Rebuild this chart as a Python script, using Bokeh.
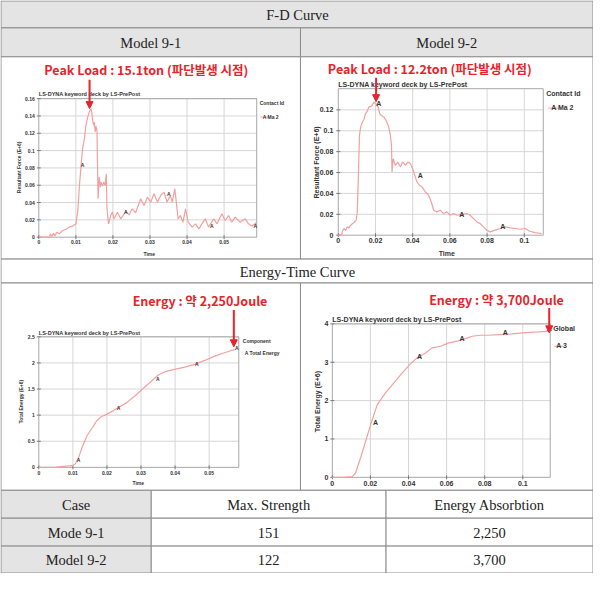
import numpy as np
from bokeh.plotting import figure
from bokeh.models import Range1d, Arrow, NormalHead
from bokeh.core.properties import value
from bokeh.embed import file_html
from bokeh.resources import INLINE

# ---------------- data ----------------
# Model 9-1 : F-D curve
fd1_time = [0, 0.0020, 0.0029, 0.0031, 0.0036, 0.0039, 0.0044, 0.0048, 0.0056, 0.0064, 0.0073, 0.0082,
            0.0091, 0.0100, 0.0105, 0.0109, 0.0114, 0.0118, 0.0123, 0.0127, 0.0132, 0.0136, 0.0141, 0.0143,
            0.0145, 0.0148, 0.0150, 0.0152, 0.0154, 0.0157, 0.0158, 0.0160, 0.0163, 0.0166, 0.0168, 0.0172,
            0.0175, 0.0179, 0.0182, 0.0184, 0.0188, 0.0194, 0.0199, 0.0203, 0.0212, 0.0221, 0.0235, 0.0244,
            0.0252, 0.0261, 0.0275, 0.0284, 0.0293, 0.0302, 0.0311, 0.0320, 0.0329, 0.0338, 0.0346, 0.0355,
            0.0360, 0.0367, 0.0371, 0.0376, 0.0382, 0.0389, 0.0396, 0.0403, 0.0414, 0.0423, 0.0432, 0.0440,
            0.0449, 0.0458, 0.0472, 0.0481, 0.0494, 0.0503, 0.0512, 0.0521, 0.0530, 0.0543, 0.0557, 0.0566,
            0.0575, 0.0588]
fd1_force = [0, 0, 0, 0.0039, 0.0008, 0.0046, 0.0015, 0.0058, 0.0039, 0.0077, 0.0089, 0.0116,
             0.0127, 0.0154, 0.0289, 0.0559, 0.0829, 0.1021, 0.1137, 0.1291, 0.1387, 0.1445, 0.1484, 0.1445,
             0.1349, 0.1291, 0.1329, 0.1214, 0.1283, 0.1233, 0.0944, 0.0443, 0.0694, 0.0578, 0.0636, 0.0590,
             0.0636, 0.0597, 0.0732, 0.0328, 0.0154, 0.0250, 0.0289, 0.0212, 0.0289, 0.0212, 0.0297, 0.0258,
             0.0328, 0.0281, 0.0443, 0.0366, 0.0462, 0.0405, 0.0501, 0.0405, 0.0482, 0.0520, 0.0405, 0.0482,
             0.0405, 0.0559, 0.0405, 0.0212, 0.0250, 0.0173, 0.0328, 0.0173, 0.0116, 0.0154, 0.0096, 0.0154,
             0.0212, 0.0116, 0.0212, 0.0154, 0.0270, 0.0193, 0.0250, 0.0173, 0.0231, 0.0173, 0.0212, 0.0154,
             0.0127, 0.0173]
fd1_mark_t = [0.0118, 0.0235, 0.0351, 0.0467, 0.0584]
fd1_mark_f = [0.083, 0.029, 0.050, 0.013, 0.013]

# Model 9-2 : F-D curve
fd2_time = [0, 0.0018, 0.0021, 0.0030, 0.0039, 0.0048, 0.0057, 0.0066, 0.0084, 0.0096, 0.0102, 0.0107,
            0.0114, 0.0120, 0.0129, 0.0138, 0.0146, 0.0155, 0.0164, 0.0179, 0.0191, 0.0204, 0.0214, 0.0223,
            0.0232, 0.0245, 0.0257, 0.0268, 0.0275, 0.0280, 0.0286, 0.0289, 0.0295, 0.0307, 0.0320, 0.0334,
            0.0346, 0.0361, 0.0375, 0.0388, 0.0400, 0.0411, 0.0423, 0.0436, 0.0450, 0.0468, 0.0486, 0.0500,
            0.0513, 0.0530, 0.0548, 0.0566, 0.0584, 0.0602, 0.0620, 0.0638, 0.0664, 0.0691, 0.0709, 0.0727,
            0.0745, 0.0763, 0.0780, 0.0798, 0.0816, 0.0843, 0.0870, 0.0896, 0.0923, 0.0950, 0.0977, 0.1004,
            0.1030, 0.1057, 0.1093]
fd2_force = [0, 0, 0.0032, 0.0064, 0.0045, 0.0080, 0.0070, 0.0096, 0.0121, 0.0143, 0.0223, 0.0510,
             0.0955, 0.1035, 0.1083, 0.1108, 0.1162, 0.1185, 0.1226, 0.1236, 0.1274, 0.1255, 0.1226, 0.1162,
             0.1146, 0.1131, 0.1099, 0.1051, 0.1003, 0.0955, 0.0860, 0.0605, 0.0732, 0.0669, 0.0701, 0.0653,
             0.0701, 0.0669, 0.0701, 0.0685, 0.0637, 0.0573, 0.0510, 0.0478, 0.0462, 0.0414, 0.0382, 0.0318,
             0.0239, 0.0223, 0.0239, 0.0207, 0.0223, 0.0191, 0.0207, 0.0191, 0.0197, 0.0207, 0.0191, 0.0159,
             0.0127, 0.0111, 0.0080, 0.0048, 0.0032, 0.0048, 0.0064, 0.0080, 0.0070, 0.0064, 0.0057, 0.0064,
             0.0038, 0.0025, 0.0016]
fd2_mark_t = [0.0218, 0.0441, 0.0664, 0.0884]
fd2_mark_f = [0.126, 0.057, 0.020, 0.008]

# Model 9-1 : Energy-Time curve
en1_time = [0, 0.0049, 0.0097, 0.0107, 0.0117, 0.0127, 0.0141, 0.0156, 0.0170, 0.0183, 0.0201, 0.0234,
            0.0258, 0.0282, 0.0307, 0.0331, 0.0351, 0.0370, 0.0399, 0.0428, 0.0458, 0.0487, 0.0516, 0.0545,
            0.0565, 0.0579]
en1_energy = [0, 0.006, 0.032, 0.064, 0.191, 0.38, 0.60, 0.75, 0.89, 0.97, 1.02, 1.145,
              1.24, 1.368, 1.514, 1.654, 1.768, 1.832, 1.877, 1.921, 1.972, 2.048, 2.131, 2.195,
              2.239, 2.258]
en1_mark_t = [0.0117, 0.0234, 0.0349, 0.0464, 0.0581]
en1_mark_e = [0.146, 1.13, 1.69, 1.98, 2.29]

# Model 9-2 : Energy-Time curve
en2_time = [0, 0.0052, 0.0105, 0.0122, 0.0148, 0.0175, 0.0201, 0.0236, 0.0279, 0.0323, 0.0367, 0.0410,
            0.0445, 0.0489, 0.0524, 0.0568, 0.0611, 0.0655, 0.0699, 0.0734, 0.0777, 0.0821, 0.0873, 0.0943,
            0.1013, 0.1083, 0.1144]
en2_energy = [0, 0, 0.017, 0.113, 0.504, 0.939, 1.374, 1.896, 2.200, 2.461, 2.722, 2.957,
              3.113, 3.243, 3.374, 3.417, 3.504, 3.548, 3.617, 3.678, 3.704, 3.704, 3.722, 3.739,
              3.774, 3.791, 3.809]
en2_mark_t = [0.0227, 0.0458, 0.0681, 0.0908, 0.1139]
en2_mark_e = [1.44, 3.16, 3.63, 3.77, 3.87]

# tick values / labels
fd1_xticks = [0, 0.01, 0.02, 0.03, 0.04, 0.05]
fd1_xlabels = ["0", "0.01", "0.02", "0.03", "0.04", "0.05"]
fd1_yticks = [0, 0.02, 0.04, 0.06, 0.08, 0.10, 0.12, 0.14, 0.16]
fd1_ylabels = ["0", "0.02", "0.04", "0.06", "0.08", "0.1", "0.12", "0.14", "0.16"]
fd2_xticks = [0, 0.02, 0.04, 0.06, 0.08, 0.10]
fd2_xlabels = ["0", "0.02", "0.04", "0.06", "0.08", "0.1"]
fd2_yticks = [0, 0.02, 0.04, 0.06, 0.08, 0.10, 0.12]
fd2_ylabels = ["0", "0.02", "0.04", "0.06", "0.08", "0.1", "0.12"]
en1_xticks = [0, 0.01, 0.02, 0.03, 0.04, 0.05]
en1_xlabels = ["0", "0.01", "0.02", "0.03", "0.04", "0.05"]
en1_yticks = [0, 0.5, 1.0, 1.5, 2.0, 2.5]
en1_ylabels = ["0", "0.5", "1", "1.5", "2", "2.5"]
en2_xticks = [0, 0.02, 0.04, 0.06, 0.08, 0.10]
en2_xlabels = ["0", "0.02", "0.04", "0.06", "0.08", "0.1"]
en2_yticks = [0, 1, 2, 3, 4]
en2_ylabels = ["0", "1", "2", "3", "4"]

# summary table
cases = ["Mode 9-1", "Model 9-2"]
max_strength = ["151", "122"]
energy_abs = ["2,250", "3,700"]

# ---------------- figure ----------------
p = figure(width=593, height=573, x_range=Range1d(4.5, 600.5), y_range=Range1d(579.5, 4.5),
           toolbar_location=None, output_backend="svg", x_axis_location=None, y_axis_location=None,
           min_border=0)
p.grid.visible = False
p.outline_line_color = None
p.background_fill_color = "white"
p.border_fill_color = "white"

GRAY = "#e4e4e4"
LINE = "#8c8c8c"
SERIF = value("Liberation Serif")
SANS = value("Liberation Sans")
KR = value("Noto Sans CJK KR")
RED = "#e8232b"
CURVE = "#f3a0a0"

# table cells (left, right, top, bottom, fill)
cells = [
    (5, 600, 5, 32, GRAY),
    (5, 306, 32, 61, GRAY), (306, 600, 32, 61, GRAY),
    (5, 306, 61, 264, "white"), (306, 600, 61, 264, "white"),
    (5, 600, 264, 288, "white"),
    (5, 306, 288, 496, "white"), (306, 600, 288, 496, "white"),
    (5, 156, 496, 524, GRAY), (156, 392, 496, 524, "white"), (392, 600, 496, 524, "white"),
    (5, 156, 524, 552, GRAY), (156, 392, 524, 552, "white"), (392, 600, 524, 552, "white"),
    (5, 156, 552, 579, GRAY), (156, 392, 552, 579, "white"), (392, 600, 552, 579, "white"),
]
p.quad(left=[c[0] for c in cells], right=[c[1] for c in cells], top=[c[2] for c in cells],
       bottom=[c[3] for c in cells], fill_color=[c[4] for c in cells], line_color=LINE, line_width=1)

def ttext(x, y, t, size="14.5px"):
    p.text(x=x, y=y, text=t, text_font=SERIF, text_font_size=size, text_color="#222222",
           text_align="center", text_baseline="middle")

ttext([303], [19], ["F-D Curve"])
ttext([155.5, 453], [47, 47], ["Model 9-1", "Model 9-2"])
ttext([303], [276.5], ["Energy-Time Curve"])
ttext([80.5, 274, 496], [510.5, 510.5, 510.5], ["Case", "Max. Strength", "Energy Absorbtion"])
ttext([80.5, 80.5], [538.5, 566], cases)
ttext([274, 274], [538.5, 566], max_strength)
ttext([496, 496], [538.5, 566], energy_abs)


def chart(frame, xr, yr, xt, xl, yt, yl, xs, ys, mx, my, fs, xoff, yoff):
    L, R, T, B = frame
    sp = p.subplot(x_source=Range1d(*xr), y_source=Range1d(*yr),
                   x_target=Range1d(L, R), y_target=Range1d(B, T))
    gx = [v for v in xt if v > xr[0]]
    gy = [v for v in yt if v > yr[0]]
    sp.segment(x0=gx, y0=yr[0], x1=gx, y1=yr[1], line_color="#d6d6d6", line_width=1)
    sp.segment(x0=xr[0], y0=gy, x1=xr[1], y1=gy, line_color="#d6d6d6", line_width=1)
    sp.quad(left=xr[0], right=xr[1], bottom=yr[0], top=yr[1], fill_color=None,
            line_color="#a8a8a8", line_width=1)
    sp.scatter(x=[xr[0]] * len(yt), y=yt, marker="dash", size=4, line_color="#777777")
    sp.scatter(x=xt, y=[yr[0]] * len(xt), marker="dash", angle=np.pi / 2, size=4, line_color="#777777")
    sp.text(x=[xr[0]] * len(yt), y=yt, text=yl, x_offset=xoff, text_align="right",
            text_baseline="middle", text_font=SANS, text_font_size=f"{fs}px",
            text_font_style="bold", text_color="#333333")
    sp.text(x=xt, y=[yr[0]] * len(xt), text=xl, y_offset=yoff, text_align="center",
            text_baseline="top", text_font=SANS, text_font_size=f"{fs}px",
            text_font_style="bold", text_color="#333333")
    sp.line(x=xs, y=ys, line_color=CURVE, line_width=1.2)
    sp.text(x=mx, y=my, text=["A"] * len(mx), text_align="center", text_baseline="middle",
            text_font=SANS, text_font_size=f"{fs}px", text_font_style="bold", text_color="#333333")


def small(x, y, t, fs, align="left", angle=0.0):
    p.text(x=x, y=y, text=t, text_font=SANS, text_font_size=f"{fs}px", text_font_style="bold",
           text_color="#333333", text_align=align, text_baseline="middle", angle=angle)


def legend_line(x0, x1, y):
    p.segment(x0=[x0], y0=[y], x1=[x1], y1=[y], line_color=CURVE, line_width=1)


# Model 9-1 F-D
chart((43, 262, 103, 242), (0, 0.0588), (0, 0.16), fd1_xticks, fd1_xlabels, fd1_yticks, fd1_ylabels,
      fd1_time, fd1_force, fd1_mark_t, fd1_mark_f, 5, -4, 3)
small([43], [98.5], ["LS-DYNA keyword deck by LS-PrePost"], 5.5)
small([265], [107], ["Contact Id"], 5)
legend_line(266, 274, 121.5)
small([268], [121], ["A  Ma 2"], 5)
small([23], [172], ["Resultant Force (E+6)"], 5, "center", np.pi / 2)
small([154], [259], ["Time"], 5, "center")

# Model 9-2 F-D
chart((344, 550, 93, 240), (0, 0.1102), (0, 0.1403), fd2_xticks, fd2_xlabels, fd2_yticks, fd2_ylabels,
      fd2_time, fd2_force, fd2_mark_t, fd2_mark_f, 7, -5, 3)
small([344], [89], ["LS-DYNA keyword deck by LS-PrePost"], 7)
small([553], [98], ["Contact Id"], 7)
legend_line(555, 568, 112.5)
small([558], [112], ["A  Ma 2"], 7)
small([322], [167], ["Resultant Force (E+6)"], 7, "center", np.pi / 2)
small([453], [258], ["Time"], 7, "center")

# Model 9-1 Energy
chart((43, 244, 342, 473), (0, 0.0587), (0, 2.5), en1_xticks, en1_xlabels, en1_yticks, en1_ylabels,
      en1_time, en1_energy, en1_mark_t, en1_mark_e, 5, -4, 3.5)
small([43], [338], ["LS-DYNA keyword deck by LS-PrePost"], 5.5)
small([248], [346], ["Component"], 5)
small([250], [358], ["A  Total Energy"], 5)
small([25], [407], ["Total Energy (E+6)"], 5, "center", np.pi / 2)
small([143], [489], ["Time"], 5, "center")

# Model 9-2 Energy
chart((338, 557, 329, 483), (0, 0.1144), (0, 4.0), en2_xticks, en2_xlabels, en2_yticks, en2_ylabels,
      en2_time, en2_energy, en2_mark_t, en2_mark_e, 7, -4, 4)
small([338], [325], ["LS-DYNA keyword deck by LS-PrePost"], 7)
small([560], [334], ["Global"], 7)
legend_line(561, 570, 351.5)
small([563], [351], ["A  3"], 7)
small([323], [407], ["Total Energy (E+6)"], 7, "center", np.pi / 2)

# red annotations
p.text(x=[151, 436, 205, 503], y=[74, 73, 306, 305],
       text=["Peak Load : 15.1ton (파단발생 시점)", "Peak Load : 12.2ton (파단발생 시점)",
             "Energy : 약 2,250Joule", "Energy : 약 3,700Joule"],
       text_font=KR, text_font_size="12.5px", text_font_style="bold", text_color=RED,
       text_align="center", text_baseline="middle")
for xa, y0, y1 in [(94, 84, 113), (382, 82, 106), (239, 315, 352), (556, 313, 338)]:
    p.add_layout(Arrow(x_start=xa, y_start=y0, x_end=xa, y_end=y1, line_color=RED, line_width=2,
                       end=NormalHead(size=7, fill_color=RED, line_color=RED)))

open("out.html", "w").write(file_html(p, INLINE))
